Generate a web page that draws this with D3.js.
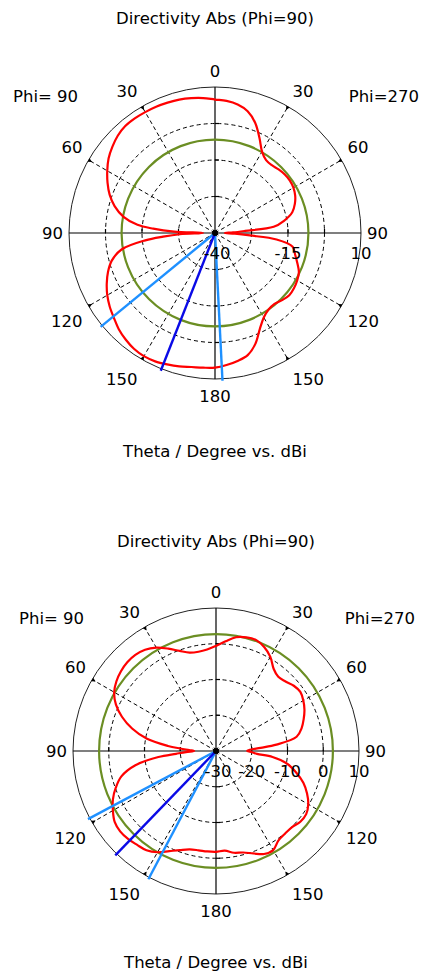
<!DOCTYPE html>
<html>
<head>
<meta charset="utf-8">
<script src="https://cdn.jsdelivr.net/npm/d3@7"></script>
<style>
  body { margin: 0; background: #fff; }
  svg text { font-family: "DejaVu Sans", sans-serif; font-size: 16.5px; fill: #000; }
</style>
</head>
<body>
<svg id="chart" width="422" height="976"></svg>
<script>
// theta in degrees (shared by both plots)
var theta = [0, 5, 10, 15, 20, 25, 30, 35, 40, 45, 50, 55, 60, 65, 70, 75, 80,
             84, 86, 88, 90, 92, 94, 96,
             100, 105, 110, 115, 120, 125, 130, 135, 140, 145, 150, 155, 160, 165, 170, 175, 180];

// directivity (dBi), upper plot: left half = Phi 90, right half = Phi 270
var topLeft = [5.7, 6.4, 6.9, 7.3, 7.5, 7.7, 7.8, 7.9, 7.8, 7.1, 5.9, 4.5, 2.6, 0.6, -1.6, -4.4, -8.2,
               -13.3, -18.8, -26.0, -35.9, -28.0, -22.2, -16.0,
               -7.5, -3.4, -1.0, 0.9, 2.6, 4.0, 5.2, 6.6, 7.6, 8.4, 8.7, 8.5, 7.9, 7.3, 6.6, 6.3, 6.1];
var topRight = [5.6, 5.4, 4.7, 3.2, 0.2, -4.0, -7.8, -9.5, -9.7, -9.2, -8.8, -8.7, -9.0, -9.7, -10.9, -12.6, -16.0,
                -19.8, -29.7, -33.8, -36.6, -33.2, -28.0, -18.8,
                -13.0, -11.6, -10.0, -8.3, -7.5, -7.0, -6.8, -7.5, -8.3, -8.0, -6.6, -3.7, 0.4, 3.3, 4.5, 5.4, 6.0];

// lower plot
var bottomLeft = [-0.6, -1.5, -1.8, -1.5, -0.2, 1.6, 3.4, 4.6, 5.1, 5.1, 4.7, 4.0, 2.9, 0.9, -2.0, -5.7, -10.4,
                  -16.5, -20.0, -22.5, -23.9, -21.6, -18.8, -13.8,
                  -7.1, -2.6, -0.2, 1.8, 3.3, 4.6, 5.0, 4.8, 4.3, 3.9, 2.7, 0.9, -0.5, -1.5, -1.8, -1.8, -1.8];
var bottomRight = [-0.6, 0.8, 2.3, 2.9, 3.0, 2.0, 0.4, -1.9, -2.9, -2.5, -1.6, -1.2, -1.8, -2.7, -3.9, -5.2, -7.1,
                   -13.0, -17.5, -20.5, -21.3, -19.9, -18.5, -14.1,
                   -9.9, -6.8, -4.0, -1.9, -0.2, 0.8, 0.8, 0.1, 0.1, 0.5, 2.0, 1.8, 0.5, -0.6, -1.1, -2.0, -1.8];

var angleLabels = [0, 30, 60, 90, 120, 150, 180];
var spokeAngles = [30, 60, 120, 150];

var topDomain = [-40, 10];
var topRings = [-27.5, -15, -2.5];
var topRangeLabels = [-40, -15, 10];
var bottomDomain = [-30, 10];
var bottomRings = [-20, -10, 0];
var bottomRangeLabels = [-30, -20, -10, 0, 10];

// green reference circle, main lobe and 3 dB beam edges (theta, >180 means Phi 270 side)
var topRef = -8.0, bottomRef = 2.7;
var topMainLobe = 158.5, topBeam = [129.4, 182.9];
var bottomMainLobe = 136, bottomBeam = [118, 152.2];

var titleText = "Directivity Abs (Phi=90)";
var footText = "Theta / Degree vs. dBi";
var leftPhi = "Phi= 90", rightPhi = "Phi=270";

var svg = d3.select("#chart");

function drawPolar(opt) {
  var R = opt.R;
  var r = d3.scaleLinear().domain(opt.domain).range([0, R]).clamp(true);
  var rad = Math.PI / 180;
  var g = svg.append("g").attr("transform", "translate(" + opt.cx + "," + opt.cy + ")");

  function pt(t, len) { return [-len * Math.sin(t * rad), -len * Math.cos(t * rad)]; }

  // dashed rings
  g.selectAll(".ring").data(opt.rings).enter().append("circle")
      .attr("r", function (d) { return r(d); })
      .attr("fill", "none").attr("stroke", "#000").attr("stroke-width", 1)
      .attr("stroke-dasharray", "4,3");

  // dashed spokes on both halves
  var spokes = [];
  spokeAngles.forEach(function (a) { spokes.push(a); spokes.push(-a); });
  g.selectAll(".spoke").data(spokes).enter().append("line")
      .attr("x1", 0).attr("y1", 0)
      .attr("x2", function (d) { return pt(d, R)[0]; })
      .attr("y2", function (d) { return pt(d, R)[1]; })
      .attr("stroke", "#000").attr("stroke-width", 1).attr("stroke-dasharray", "4,3");

  // outer circle and axes
  g.append("circle").attr("r", R).attr("fill", "none").attr("stroke", "#222").attr("stroke-width", 1);
  g.append("line").attr("x1", -R).attr("x2", R).attr("y1", 0).attr("y2", 0)
      .attr("stroke", "#000").attr("stroke-width", 1.2);
  g.append("line").attr("x1", 0).attr("x2", 0).attr("y1", -R).attr("y2", R)
      .attr("stroke", "#000").attr("stroke-width", 1.2);

  // small ticks where rings cross the axes
  opt.rings.forEach(function (v) {
    var d = r(v);
    [d, -d].forEach(function (p) {
      g.append("line").attr("x1", p).attr("x2", p).attr("y1", -4).attr("y2", 0)
          .attr("stroke", "#000").attr("stroke-width", 1.2);
      g.append("line").attr("x1", 0).attr("x2", 4).attr("y1", p).attr("y2", p)
          .attr("stroke", "#000").attr("stroke-width", 1.2);
    });
  });

  // little markers on the outer circle
  g.selectAll(".mark").data(spokes).enter().append("path")
      .attr("d", function (d) {
        var a = d * rad, ux = -Math.sin(a), uy = -Math.cos(a);
        var tx = -uy, ty = ux;
        var p0 = [ux * R, uy * R];
        return "M" + (p0[0] + tx * 2) + "," + (p0[1] + ty * 2) +
               "L" + (p0[0] - tx * 2) + "," + (p0[1] - ty * 2) +
               "L" + (p0[0] - ux * 4) + "," + (p0[1] - uy * 4) + "Z";
      })
      .attr("fill", "#000");

  // reference circle
  g.append("circle").attr("r", r(opt.ref))
      .attr("fill", "none").attr("stroke", "#6b8e23").attr("stroke-width", 2.2);

  // pattern
  var pts = [];
  theta.forEach(function (t, i) { pts.push({a: -t, v: opt.left[i]}); });
  for (var i = theta.length - 2; i > 0; i--) pts.push({a: theta[i], v: opt.right[i]});

  var line = d3.lineRadial()
      .angle(function (d) { return d.a * rad; })
      .radius(function (d) { return r(d.v); })
      .curve(d3.curveCatmullRomClosed.alpha(0.5));

  g.append("path").datum(pts).attr("d", line)
      .attr("fill", "none").attr("stroke", "#ff0000").attr("stroke-width", 2.2)
      .attr("stroke-linejoin", "round");

  // beam edges and main lobe
  opt.beam.forEach(function (t) {
    var p = pt(t, R + 2);
    g.append("line").attr("x1", 0).attr("y1", 0).attr("x2", p[0]).attr("y2", p[1])
        .attr("stroke", "#1e90ff").attr("stroke-width", 2.4);
  });
  var m = pt(opt.mainLobe, R + 2);
  g.append("line").attr("x1", 0).attr("y1", 0).attr("x2", m[0]).attr("y2", m[1])
      .attr("stroke", "#0a0ae6").attr("stroke-width", 2.4);

  g.append("circle").attr("r", 3).attr("fill", "#000");

  // angle labels on both halves
  function labelXY(t) {
    var s = Math.sin(t * rad), c = Math.cos(t * rad);
    var x = (R + 10 - 4 * s * s) * s;
    var y;
    if (t == 90) y = 6;
    else if (t == 180) y = R + 23;
    else if (t < 90) y = -(R + 12) * c + 2 - 4 * s * s;
    else y = -(R + 12) * c + 15;
    return [x, y];
  }
  var labels = [];
  angleLabels.forEach(function (t) {
    if (t == 0 || t == 180) labels.push({t: t, side: 0});
    else { labels.push({t: t, side: -1}); labels.push({t: t, side: 1}); }
  });
  g.selectAll(".alabel").data(labels).enter().append("text")
      .attr("x", function (d) { return d.side * labelXY(d.t)[0]; })
      .attr("y", function (d) { return labelXY(d.t)[1]; })
      .attr("text-anchor", function (d) { return d.side < 0 ? "end" : d.side > 0 ? "start" : "middle"; })
      .text(function (d) { return d.t; });

  // radial labels along the right axis
  g.selectAll(".rlabel").data(opt.rangeLabels).enter().append("text")
      .attr("x", function (d, i) { return r(d) + (i == 0 ? 2 : 0); })
      .attr("y", 26)
      .attr("text-anchor", "middle")
      .text(function (d) { return d; });

  // titles
  svg.append("text").attr("x", opt.cx).attr("y", opt.titleY).attr("text-anchor", "middle").text(titleText);
  svg.append("text").attr("x", opt.cx).attr("y", opt.footY).attr("text-anchor", "middle").text(footText);
  svg.append("text").attr("x", opt.phiLeftX).attr("y", opt.phiY).text(leftPhi);
  svg.append("text").attr("x", opt.phiRightX).attr("y", opt.phiY).attr("text-anchor", "end").text(rightPhi);
}

drawPolar({cx: 215, cy: 233, R: 146, domain: topDomain, left: topLeft, right: topRight,
           rings: topRings, rangeLabels: topRangeLabels, ref: topRef,
           mainLobe: topMainLobe, beam: topBeam,
           titleY: 24, footY: 457, phiY: 102, phiLeftX: 13, phiRightX: 419});

drawPolar({cx: 216, cy: 751, R: 143, domain: bottomDomain, left: bottomLeft, right: bottomRight,
           rings: bottomRings, rangeLabels: bottomRangeLabels, ref: bottomRef,
           mainLobe: bottomMainLobe, beam: bottomBeam,
           titleY: 547, footY: 968, phiY: 624, phiLeftX: 19, phiRightX: 415});
</script>
</body>
</html>
